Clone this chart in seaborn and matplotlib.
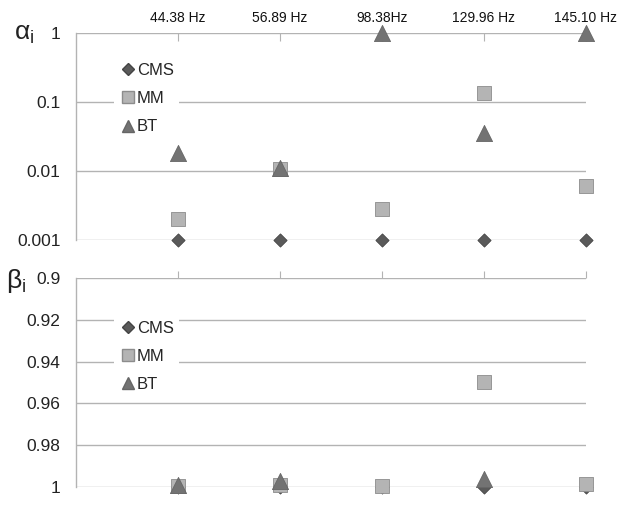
import numpy as np
import pandas as pd
import matplotlib
matplotlib.use('Agg')
import matplotlib.pyplot as plt
import seaborn as sns
from matplotlib.lines import Line2D

# data
freqs = ['44.38 Hz', '56.89 Hz', '98.38Hz', '129.96 Hz', '145.10 Hz']
methods = ['CMS', 'MM', 'BT']

alpha_cms = [0.001, 0.001, 0.001, 0.001, 0.001]
alpha_mm = [0.002, 0.0105, 0.0028, 0.135, 0.006]
alpha_bt = [0.018, 0.011, 1.0, 0.035, 1.0]

beta_cms = [1.0, 1.0, 1.0, 1.0, 1.0]
beta_mm = [0.9995, 0.999, 0.9993, 0.950, 0.9985]
beta_bt = [0.9988, 0.997, np.nan, 0.996, np.nan]

alpha_ticks = [0.001, 0.01, 0.1, 1]
alpha_ticklabels = ['0.001', '0.01', '0.1', '1']
beta_ticks = [0.9, 0.92, 0.94, 0.96, 0.98, 1.0]
beta_ticklabels = ['0.9', '0.92', '0.94', '0.96', '0.98', '1']

styles = {
    'CMS': dict(marker='D', color='#5a5a5a', s=45, edgecolor='#444444'),
    'MM': dict(marker='s', color='#b4b4b4', s=115, edgecolor='#8c8c8c'),
    'BT': dict(marker='^', color='#737373', s=135, edgecolor='#666666'),
}

pos = np.arange(1, len(freqs) + 1)


def long_df(vals):
    rows = []
    for m, v in zip(methods, vals):
        for p, y in zip(pos, v):
            rows.append({'x': p, 'y': y, 'method': m})
    return pd.DataFrame(rows).dropna()


df_a = long_df([alpha_cms, alpha_mm, alpha_bt])
df_b = long_df([beta_cms, beta_mm, beta_bt])

sns.set_style('white')
plt.rcParams['font.family'] = ['Liberation Sans', 'DejaVu Sans']

fig = plt.figure(figsize=(6.18, 5.05), dpi=100)
ax1 = fig.add_axes([0.123, 0.5248, 0.825, 0.41])
ax2 = fig.add_axes([0.123, 0.0356, 0.825, 0.414])

grid_c = '#b3b3b3'


def draw(ax, df):
    for m in methods:
        st = styles[m]
        sns.scatterplot(data=df[df.method == m], x='x', y='y', ax=ax,
                        marker=st['marker'], color=st['color'], s=st['s'],
                        edgecolor=st['edgecolor'], linewidth=0.6,
                        zorder=3, clip_on=False, legend=False)
    ax.set_xlim(0, len(freqs))
    ax.set_xlabel('')
    ax.set_ylabel('')
    for sp in ['right', 'bottom', 'top']:
        ax.spines[sp].set_visible(False)
    ax.spines['left'].set_color(grid_c)
    ax.spines['left'].set_linewidth(1.0)
    ax.tick_params(axis='y', length=0, labelsize=12.5, labelcolor='#222222', pad=11)
    ax.grid(False)


def add_legend(ax, y0, spacing):
    handles = [Line2D([], [], linestyle='none', marker=styles[m]['marker'],
                      markerfacecolor=styles[m]['color'],
                      markeredgecolor=styles[m]['edgecolor'],
                      markersize={'CMS': 6, 'MM': 9, 'BT': 9}[m])
               for m in methods]
    leg = ax.legend(handles, methods, loc='upper left', bbox_to_anchor=(0.075, y0),
                    frameon=True, fontsize=12, handletextpad=0.05,
                    handlelength=1.0, labelspacing=spacing, borderpad=0.3,
                    borderaxespad=0)
    leg.get_frame().set_facecolor('white')
    leg.get_frame().set_edgecolor('none')
    leg.get_frame().set_alpha(1)
    leg.set_zorder(5)


# top panel: alpha
ax1.set_yscale('log')
ax1.set_ylim(0.001, 1)
for t in alpha_ticks:
    ax1.axhline(t, color=grid_c, lw=1.0, zorder=1)
draw(ax1, df_a)
ax1.set_yticks(alpha_ticks, alpha_ticklabels)
ax1.minorticks_off()
ax1.xaxis.tick_top()
ax1.set_xticks(pos)
ax1.set_xticklabels(freqs)
ax1.tick_params(axis='x', direction='in', length=6, color=grid_c,
                labelsize=10, labelcolor='#111111', pad=6)
add_legend(ax1, 0.88, 0.8)
fig.text(0.022, 0.922, r'$\mathregular{\alpha_i}$', fontsize=19, color='#222222')

# bottom panel: beta
ax2.set_ylim(1.0, 0.9)
for t in beta_ticks:
    ax2.axhline(t, color=grid_c, lw=1.0, zorder=1)
draw(ax2, df_b)
ax2.set_ylim(1.0, 0.9)
ax2.set_yticks(beta_ticks, beta_ticklabels)
ax2.xaxis.tick_top()
ax2.set_xticks(pos)
ax2.set_xticklabels([])
ax2.tick_params(axis='x', direction='out', length=5, color=grid_c)
add_legend(ax2, 0.82, 0.8)
fig.text(0.01, 0.43, r'$\mathregular{\beta_i}$', fontsize=19, color='#222222')

fig.savefig('out.png', dpi=100, facecolor='white')
